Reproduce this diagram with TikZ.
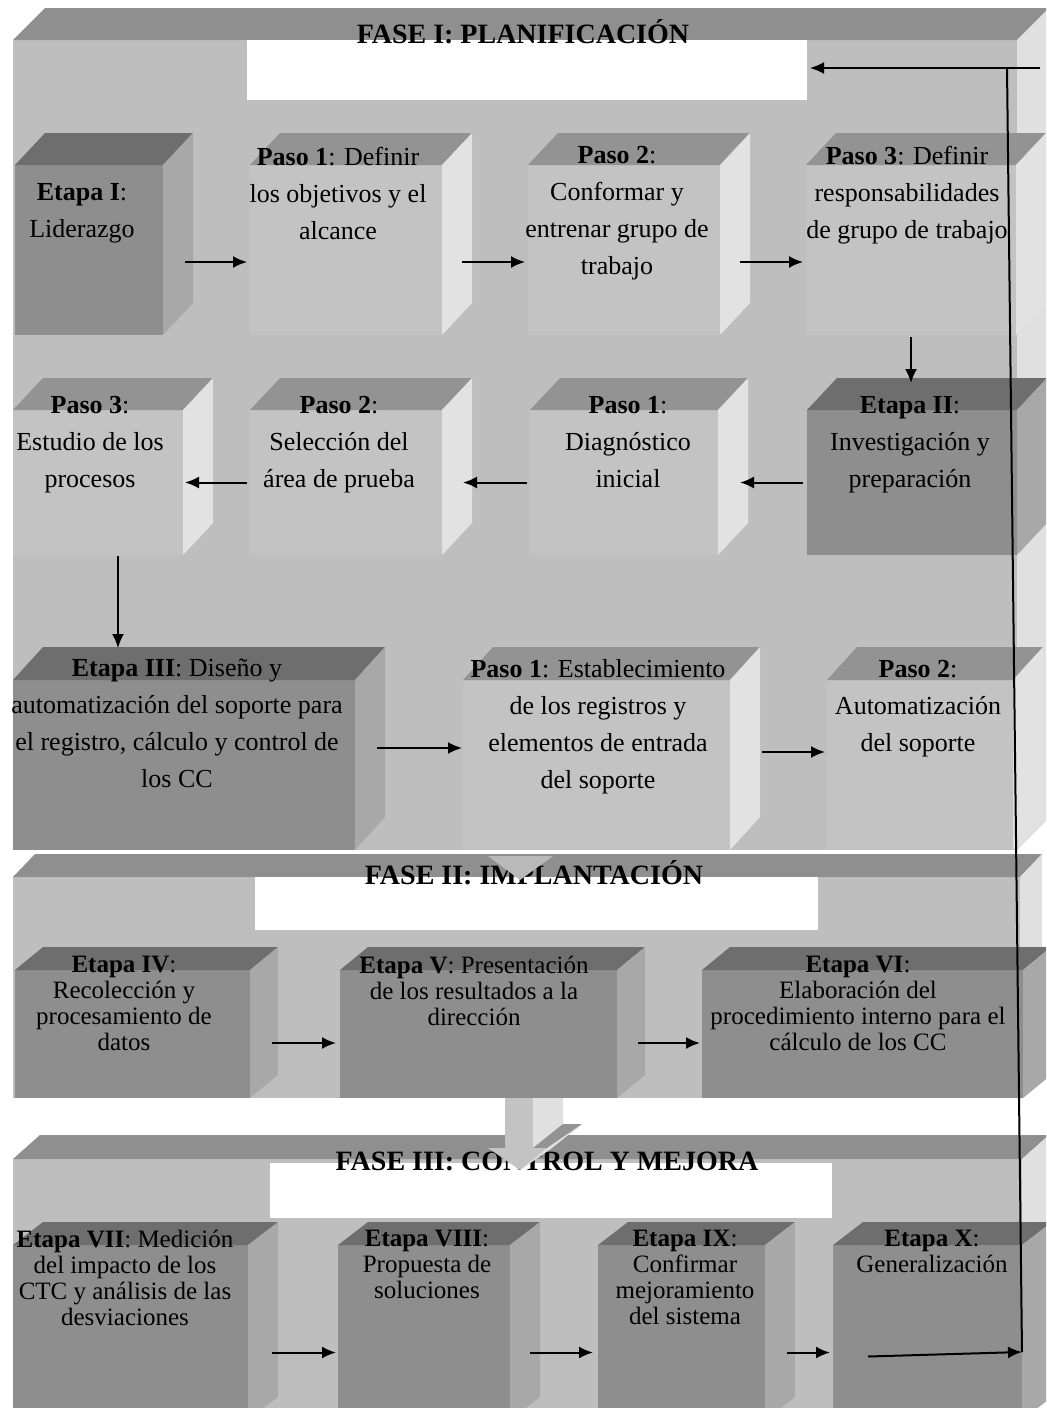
\documentclass[tikz,border=0pt]{standalone}
\usepackage{fontspec}
\setmainfont{Liberation Serif}
\usetikzlibrary{calc,arrows.meta}

\definecolor{fasefr}{HTML}{BEBEBE}
\definecolor{fasetop}{HTML}{8F8F8F}
\definecolor{faselado}{HTML}{E0E0E0}
\definecolor{pasofr}{HTML}{C3C3C3}
\definecolor{pasotop}{HTML}{939393}
\definecolor{pasolado}{HTML}{E2E2E2}
\definecolor{etapafr}{HTML}{8E8E8E}
\definecolor{etapatop}{HTML}{6E6E6E}
\definecolor{etapalado}{HTML}{A8A8A8}

\tikzset{
  caja/.style={anchor=north west, inner sep=0pt, outer sep=0pt},
  blanco/.style={caja, fill=white},
  titulo/.style={anchor=base, inner sep=0pt, font=\fontsize{14}{16}\selectfont\bfseries},
  txtI/.style={anchor=north, align=center, inner sep=0pt, font=\fontsize{13}{18.5}\selectfont},
  txtII/.style={anchor=north, align=center, inner sep=0pt, font=\fontsize{12.5}{13}\selectfont},
  flecha/.style={-{Latex[length=7pt,width=6pt]}, line width=1pt},
}

\newcommand{\cubo}[8]{%
  \node[caja, fill=#2fr, minimum width={(#5-#3)*0.5pt}, minimum height={(#6-#4)*0.5pt}] (#1) at (#3,#4) {};
  \fill[#2top] (#1.north west) -- ++(#7,-#8) -- ($(#1.north east)+(#7,-#8)$) -- (#1.north east) -- cycle;
  \fill[#2lado] (#1.north east) -- ++(#7,-#8) -- ($(#1.south east)+(#7,-#8)$) -- (#1.south east) -- cycle;
}

\begin{document}
\begin{tikzpicture}[x=0.5pt, y=-0.5pt]
    \path[use as bounding box] (0,0) rectangle (1046,1408);
    \clip (0,0) rectangle (1046,1408);
    \fill[white] (0,0) rectangle (1046,1408);

    \cubo{f1}{fase}{13}{40}{1017}{850}{32}{32}
    \cubo{f2}{fase}{13}{877}{1020}{1098}{22}{23}
    \cubo{f3}{fase}{13}{1159}{1022}{1420}{27}{24}

    \node[blanco, minimum width=280pt, minimum height=30pt] (w1) at (247,40) {};
    \node[blanco, minimum width=281.5pt, minimum height=26.5pt] (w2) at (255,877) {};
    \node[blanco, minimum width=281pt, minimum height=27.5pt] (w3) at (270,1163) {};
    \node[titulo] (t1) at (523,43) {FASE I: PLANIFICACIÓN};
    \node[titulo] (t2) at (534,884) {FASE II: IMPLANTACIÓN};
    \node[titulo] (t3) at (547,1170) {FASE III: CONTROL Y MEJORA};

    \cubo{e1}{etapa}{15}{165}{163}{335}{30}{32}
    \cubo{p11}{paso}{250}{165}{442}{335}{30}{32}
    \cubo{p12}{paso}{528}{165}{720}{335}{30}{32}
    \cubo{p13}{paso}{806}{165}{1016}{335}{30}{32}
    \cubo{p23}{paso}{13}{410}{183}{555}{30}{32}
    \cubo{p22}{paso}{250}{410}{442}{555}{30}{32}
    \cubo{p21}{paso}{530}{410}{718}{555}{30}{32}
    \cubo{e2}{etapa}{807}{410}{1017}{555}{30}{32}
    \cubo{e3}{etapa}{13}{680}{355}{850}{30}{33}
    \cubo{p31}{paso}{463}{680}{730}{850}{30}{33}
    \cubo{p32}{paso}{827}{680}{1013}{850}{30}{33}
    \cubo{e4}{etapa}{15}{970}{250}{1098}{28}{23}
    \cubo{e5}{etapa}{340}{970}{617}{1098}{28}{23}
    \cubo{e6}{etapa}{702}{970}{1023}{1098}{28}{23}
    \cubo{e7}{etapa}{13}{1245}{248}{1420}{30}{23}
    \cubo{e8}{etapa}{338}{1245}{510}{1420}{30}{23}
    \cubo{e9}{etapa}{598}{1245}{765}{1420}{30}{23}
    \cubo{e10}{etapa}{833}{1245}{1022}{1420}{30}{23}

    \node[txtI] (e1t) at (82,183) {\textbf{Etapa I}:\\Liderazgo};
    \node[txtI] (p11t) at (338,147) {\textbf{Paso 1}: Definir\\los objetivos y el\\alcance};
    \node[txtI] (p12t) at (617,146) {\textbf{Paso 2}:\\Conformar y\\entrenar grupo de\\trabajo};
    \node[txtI] (p13t) at (907,146) {\textbf{Paso 3}: Definir\\responsabilidades\\de grupo de trabajo};
    \node[txtI] (p23t) at (90,396) {\textbf{Paso 3}:\\Estudio de los\\procesos};
    \node[txtI] (p22t) at (339,396) {\textbf{Paso 2}:\\Selección del\\área de prueba};
    \node[txtI] (p21t) at (628,396) {\textbf{Paso 1}:\\Diagnóstico\\inicial};
    \node[txtI] (e2t) at (910,396) {\textbf{Etapa II}:\\Investigación y\\preparación};
    \node[txtI] (e3t) at (177,659) {\textbf{Etapa III}: Diseño y\\automatización del soporte para\\el registro, cálculo y control de\\los CC};
    \node[txtI] (p31t) at (598,659) {\textbf{Paso 1}: Establecimiento\\de los registros y\\elementos de entrada\\del soporte};
    \node[txtI] (p32t) at (918,660) {\textbf{Paso 2}:\\Automatización\\del soporte};
    \node[txtII] (e4t) at (124,956) {\textbf{Etapa IV}:\\Recolección y\\procesamiento de\\datos};
    \node[txtII] (e5t) at (474,956) {\textbf{Etapa V}: Presentación\\de los resultados a la\\dirección};
    \node[txtII] (e6t) at (858,956) {\textbf{Etapa VI}:\\Elaboración del\\procedimiento interno para el\\cálculo de los CC};
    \node[txtII] (e7t) at (125,1230) {\textbf{Etapa VII}: Medición\\del impacto de los\\CTC y análisis de las\\desviaciones};
    \node[txtII] (e8t) at (427,1230) {\textbf{Etapa VIII}:\\Propuesta de\\soluciones};
    \node[txtII] (e9t) at (685,1230) {\textbf{Etapa IX}:\\Confirmar\\mejoramiento\\del sistema};
    \node[txtII] (e10t) at (932,1230) {\textbf{Etapa X}:\\Generalización};

    \fill[pasofr!95!black] (488,856) -- (553,856) -- (520,880) -- cycle;
    \fill[faselado] (533,1098) -- (563,1098) -- (563,1126) -- (533,1150) -- cycle;
    \fill[pasofr] (505,1098) rectangle (533,1150);
    \fill[pasotop] (533,1148) -- (563,1124) -- (582,1124) -- (552,1148) -- cycle;
    \fill[pasofr] (488,1148) -- (552,1148) -- (520,1170) -- cycle;
    \fill[faselado] (552,1148) -- (582,1124) -- (550,1146) -- (520,1170) -- cycle;

    \draw[flecha] ($(e1.east)+(22,12)$) -- ($(p11.west)+(-3,12)$);
    \draw[flecha] ($(p11.east)+(20,12)$) -- ($(p12.west)+(-3,12)$);
    \draw[flecha] ($(p12.east)+(20,12)$) -- ($(p13.west)+(-3,12)$);
    \draw[flecha] ([yshift=-1pt]p13.south) -- ([yshift=13.5pt]p13.south |- e2.north);
    \draw[flecha] ($(e2.west)+(-4,0)$) -- ($(p21.east)+(22,0)$);
    \draw[flecha] ($(p21.west)+(-3,0)$) -- ($(p22.east)+(21,0)$);
    \draw[flecha] ($(p22.west)+(-3,0)$) -- ($(p23.east)+(2,0)$);
    \draw[flecha] ([xshift=10pt,yshift=-0.5pt]p23.south) -- ([xshift=10pt,yshift=16pt]p23.south |- e3.north);
    \draw[flecha] ($(e3.east)+(22,-17)$) -- ($(p31.west)+(-1,-17)$);
    \draw[flecha] ($(p31.east)+(32,-13)$) -- ($(p32.west)+(-2,-13)$);
    \draw[flecha] ($(e4.east)+(22,9)$) -- ($(e5.west)+(-4,9)$);
    \draw[flecha] ($(e5.east)+(21,9)$) -- ($(e6.west)+(-2,9)$);
    \draw[flecha] ($(e7.east)+(24,20)$) -- ($(e8.west)+(-2,20)$);
    \draw[flecha] ($(e8.east)+(20,20)$) -- ($(e9.west)+(-5,20)$);
    \draw[flecha] ($(e9.east)+(22,20)$) -- ($(e10.west)+(-3,20)$);

    \coordinate (r1) at (1022,1352);
    \coordinate (r2) at (1007,68);
    \coordinate (r3) at (1040,68);
    \draw[flecha] ($(e10.west)+(35,24)$) -- (r1);
    \draw[line width=1pt] (r1) -- (r2);
    \draw[flecha] (r3) -- ($(w1.east)+(3,-2)$);
\end{tikzpicture}
\end{document}
